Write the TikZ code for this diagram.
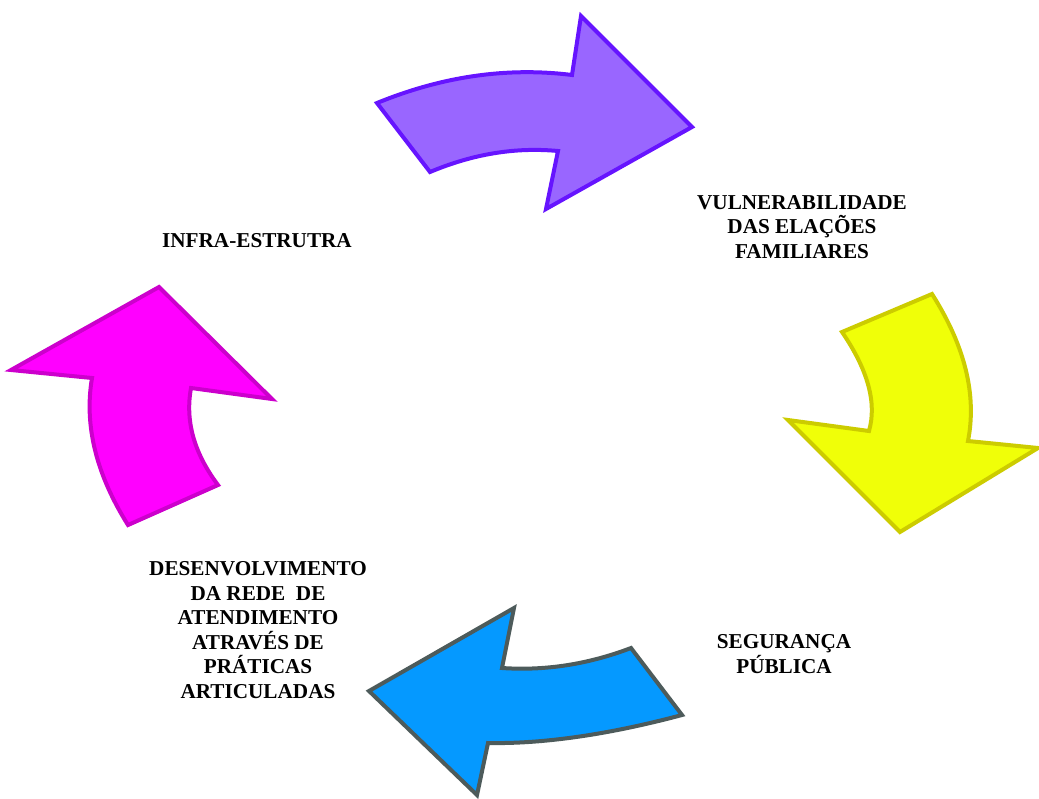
\documentclass[tikz,border=0pt]{standalone}
\usepackage{fontspec}
\setmainfont{Liberation Serif}
\usepackage{xcolor}
\definecolor{roxo}{HTML}{9966FF}
\definecolor{roxoborda}{HTML}{6614FF}
\definecolor{amarelo}{HTML}{F0FF08}
\definecolor{amareloborda}{HTML}{CCCC00}
\definecolor{azul}{HTML}{0599FF}
\definecolor{azulborda}{HTML}{4D5B5B}
\definecolor{magenta}{HTML}{FF00FF}
\definecolor{magentaborda}{HTML}{CC00CC}
\begin{document}
\begin{tikzpicture}[x=0.5pt,y=-0.5pt,
  seta/.style={line width=2pt,line join=miter},
  rotulo/.style={font=\bfseries\fontsize{10.6}{12.3}\selectfont,align=center,inner sep=0pt}]
\useasboundingbox (0,0) rectangle (1039,798);
\draw[seta,fill=roxo,draw=roxoborda] (377,103) .. controls (443,76) and (508,67) .. (572,75) -- (581,16) -- (692,127) -- (546,209) -- (558,151) .. controls (515,147) and (473,154) .. (430,172) -- cycle;
\draw[seta,fill=amarelo,draw=amareloborda] (932,294) -- (842,332) .. controls (868,370) and (877,403) .. (869,431) -- (788,420) -- (900,532) -- (1038,448) -- (968,441) .. controls (977,395) and (965,346) .. cycle;
\draw[seta,fill=azul,draw=azulborda] (631,648) -- (682,715) .. controls (607,735) and (542,744) .. (488,743) -- (477,795) -- (369,691) -- (514,608) -- (502,668) .. controls (546,671) and (589,664) .. cycle;
\draw[seta,fill=magenta,draw=magentaborda] (128,525) -- (218,485) .. controls (194,453) and (185,421) .. (191,388) -- (272,399) -- (159,287) -- (11,370) -- (92,378) .. controls (84,425) and (96,474) .. cycle;
\node[rotulo] (vulner) at (802,227) {VULNERABILIDADE\\DAS ELAÇÕES\\FAMILIARES};
\node[rotulo] (infra) at (257,241) {INFRA-ESTRUTRA};
\node[rotulo] (seguranca) at (784,654) {SEGURANÇA\\PÚBLICA};
\node[rotulo] (desenvolv) at (258,630) {DESENVOLVIMENTO\\DA REDE \ DE\\ATENDIMENTO\\ATRAVÉS DE\\PRÁTICAS\\ARTICULADAS};
\end{tikzpicture}
\end{document}
